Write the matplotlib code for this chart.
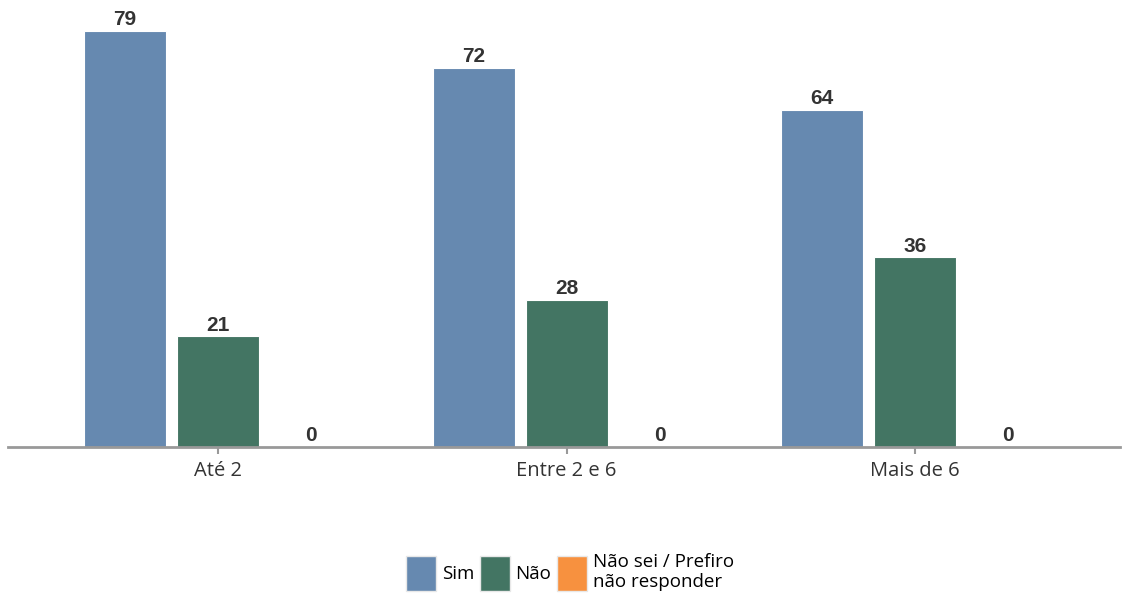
import numpy as np
import matplotlib.pyplot as plt
from matplotlib.patches import Patch

# Data
categories = ["Até 2", "Entre 2 e 6", "Mais de 6"]
sim = [79, 72, 64]
nao = [21, 28, 36]
nao_sei = [0, 0, 0]
series_names = ["Sim", "Não", "Não sei / Prefiro\nnão responder"]
colors = ["#6689B0", "#437563", "#F7913F"]

fig = plt.figure(figsize=(11.23, 5.95), dpi=100)
ax = fig.add_axes([8 / 1123, (595 - 447) / 595, (1120 - 8) / 1123, (447 - 3) / 595])

x = np.arange(len(categories))
width = 0.235
step = 0.267

for i, (vals, col) in enumerate(zip([sim, nao, nao_sei], colors)):
    pos = x + (i - 1) * step
    ax.bar(pos, vals, width=width, color=col, edgecolor="white", linewidth=0.8)
    for p, v in zip(pos, vals):
        ax.text(p, v + 0.3, str(v), ha="center", va="bottom", fontsize=15,
                fontweight="bold", color="#333333", family="Liberation Sans")

ax.set_xlim(-0.603, 2.588)
ax.set_ylim(0, 84.3)

for s in ["top", "right", "left"]:
    ax.spines[s].set_visible(False)
ax.spines["bottom"].set_color("#999999")
ax.spines["bottom"].set_linewidth(2)
ax.set_yticks([])
ax.set_xticks(x)
ax.set_xticklabels(categories, fontsize=14.5, color="#333333", family="Open Sans")
ax.tick_params(axis="x", length=5, width=1.5, color="#999999", pad=5)

handles = [Patch(facecolor=c, edgecolor="#e8e8e8") for c in colors]
fig.legend(handles, series_names, loc="center", bbox_to_anchor=(570 / 1123, 1 - 572 / 595),
           ncol=3, frameon=False, prop={"family": "Open Sans", "size": 13.5},
           handlelength=1.6, handleheight=2.5, handletextpad=0.3, columnspacing=0.3)

fig.savefig("out.png", dpi=100)
